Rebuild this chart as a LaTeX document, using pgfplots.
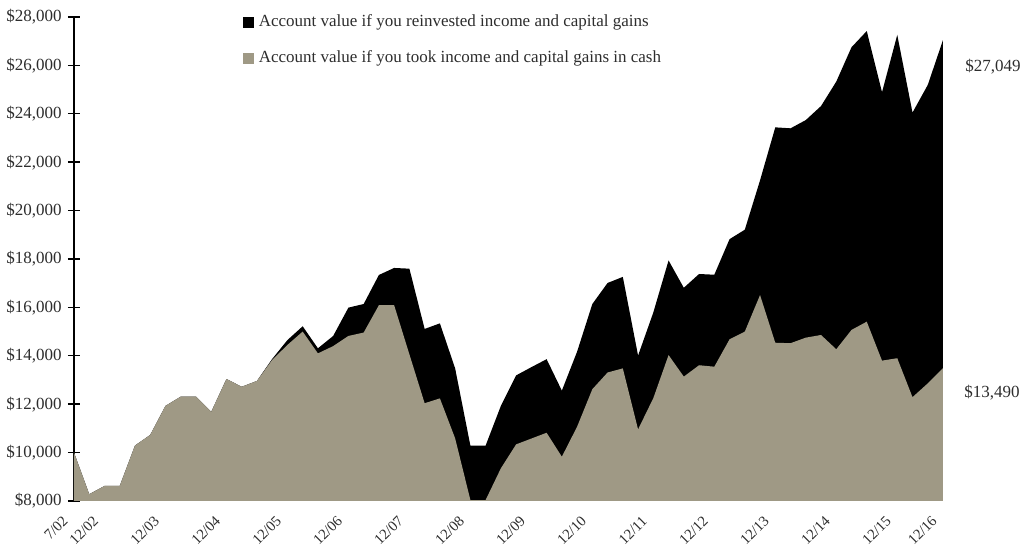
\documentclass[border=0pt]{standalone}
\usepackage{fontspec}
\setmainfont{Liberation Serif}
\usepackage{pgfplots}
\usepackage{pgfplotstable}
\pgfplotsset{compat=1.18}

\definecolor{cashgray}{RGB}{159,153,133}
\definecolor{txt}{RGB}{45,45,45}

% quarter index, value with reinvestment, value taking cash
\pgfplotstableread{
i  reinv  cash
0  10000  10000
1  8280   8280
2  8620   8620
3  8620   8620
4  10290  10290
5  10730  10730
6  11930  11930
7  12310  12310
8  12310  12310
9  11680  11680
10 13040  13040
11 12720  12720
12 12960  12960
13 13870  13830
14 14650  14450
15 15220  15000
16 14310  14100
17 14820  14400
18 15990  14820
19 16140  14960
20 17340  16090
21 17630  16090
22 17600  14060
23 15110  12040
24 15340  12240
25 13480  10590
26 10290  8040
27 10290  8040
28 11930  9350
29 13190  10340
30 13530  10580
31 13860  10820
32 12560  9830
33 14170  11070
34 16140  12620
35 17010  13310
36 17260  13480
37 14010  10960
38 15790  12250
39 17940  14030
40 16810  13140
41 17380  13610
42 17350  13550
43 18820  14680
44 19210  15000
45 21250  16510
46 23440  14540
47 23400  14520
48 23740  14750
49 24320  14860
50 25330  14270
51 26750  15070
52 27420  15410
53 24890  13800
54 27260  13900
55 24050  12290
56 25190  12860
57 27049  13490
}\growth

\begin{document}
\begin{tikzpicture}
\useasboundingbox (-37pt,-25pt) rectangle (475pt,250.5pt);
\begin{axis}[
    scale only axis,
    width=434.5pt, height=242pt,
    xmin=0, xmax=57,
    ymin=8000, ymax=28000,
    axis lines*=left,
    x axis line style={draw=black!25, line width=0.5pt},
    y axis line style={draw=black, line width=0.7pt},
    xtick={0,2,6,10,14,18,22,26,30,34,38,42,46,50,54,57},
    xticklabels={7/02,12/02,12/03,12/04,12/05,12/06,12/07,12/08,12/09,12/10,12/11,12/12,12/13,12/14,12/15,12/16},
    xtick style={draw=none},
    ytick={8000,10000,...,28000},
    ytick style={draw=black, line width=0.7pt},
    major tick length=6pt,
    tick align=center,
    scaled y ticks=false,
    /pgf/number format/.cd, fixed, precision=0, 1000 sep={,}, assume math mode=true,
    /pgfplots/.cd,
    yticklabel={\$\pgfmathprintnumber{\tick}},
    ticklabel style={text=txt},
    yticklabel style={font=\fontsize{8.5}{10}\selectfont, inner sep=0pt, xshift=-3pt},
    xticklabel style={font=\fontsize{7.4}{9}\selectfont, rotate=45, anchor=east,
        inner sep=0pt, xshift=-7pt, yshift=-1pt},
    legend style={draw=none, fill=none, at={(0.1945,1.0103)}, anchor=north west,
        inner sep=0pt, row sep=8pt, font=\fontsize{8.5}{10}\selectfont, text=txt,
        nodes={inner sep=1pt, text height=6pt, text depth=2pt},
        /tikz/every odd column/.append style={column sep=1.5pt}},
    legend cell align=left,
    legend image code/.code={\fill[#1] (0pt,-2.6pt) rectangle (5.2pt,2.6pt);},
]
\addplot[fill=black, draw=none] table[x=i, y=reinv] {\growth} \closedcycle;
\addlegendentry{Account value if you reinvested income and capital gains}
\addplot[fill=cashgray, draw=none] table[x=i, y=cash] {\growth} \closedcycle;
\addlegendentry{Account value if you took income and capital gains in cash}
\end{axis}
\node[anchor=west, inner sep=0pt, text=txt, font=\fontsize{8.5}{10}\selectfont] at (445.5pt,217pt) {\$27,049};
\node[anchor=west, inner sep=0pt, text=txt, font=\fontsize{8.5}{10}\selectfont] at (445pt,54pt) {\$13,490};
\end{tikzpicture}
\end{document}
